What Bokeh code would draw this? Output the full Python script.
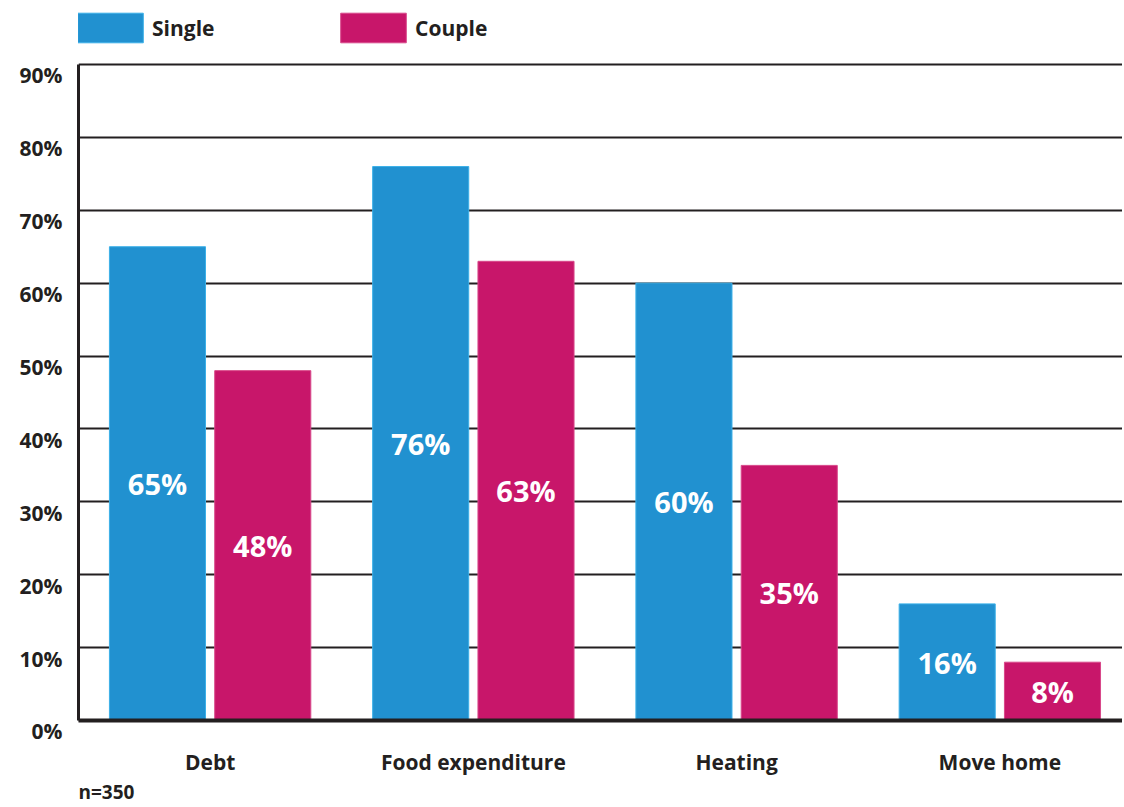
from bokeh.plotting import figure
from bokeh.models import (ColumnDataSource, Range1d, LinearAxis, FixedTicker, Grid,
                          Legend, LegendItem, LabelSet, Label)
from bokeh.embed import file_html
from bokeh.resources import INLINE
from bokeh.core.properties import value

categories = ["Debt", "Food expenditure", "Heating", "Move home"]
series = ["Single", "Couple"]
single = [65, 76, 60, 16]
couple = [48, 63, 35, 8]
y_ticks = [0, 10, 20, 30, 40, 50, 60, 70, 80, 90]
y_tick_labels = [f"{t}%" for t in y_ticks]
colors = {"Single": "#2191D0", "Couple": "#C8166A"}
note = "n=350"

FONT = "Open Sans"
DARK = "#231F20"

W, H = 1122, 805
Y_TOP = 98.78      # frame reaches above 90% to hold the legend
Y_BOT = -11.66     # ... and below 0% to hold category labels and the note
LAB_SHIFT = 1.5    # tick labels sit a little below their gridlines

p = figure(width=W, height=H, output_backend="svg", toolbar_location=None,
           x_range=Range1d(0, 3.966), y_range=Range1d(Y_BOT, Y_TOP),
           x_axis_location=None, y_axis_location=None,
           min_border_left=78, min_border_right=0, min_border_top=0,
           min_border_bottom=0)
p.outline_line_color = None
p.background_fill_color = "white"
p.border_fill_color = "white"
for g in p.grid:
    g.visible = False

p.add_layout(Grid(dimension=1, ticker=FixedTicker(ticks=y_ticks), grid_line_color=DARK,
                  grid_line_width=2))
# baseline (x axis line)
p.add_layout(Grid(dimension=1, ticker=FixedTicker(ticks=[0]), grid_line_color=DARK,
                  grid_line_width=4, level="annotation"))

idx = list(range(len(categories)))
centers = [i + 0.5 for i in idx]
src_s = ColumnDataSource(dict(x=[c - 0.2 for c in centers], top=single,
                              mid=[v / 2 for v in single],
                              lab=[f"{v}%" for v in single]))
src_c = ColumnDataSource(dict(x=[c + 0.2 for c in centers], top=couple,
                              mid=[v / 2 for v in couple],
                              lab=[f"{v}%" for v in couple]))

r_s = p.vbar(x="x", top="top", bottom=0, width=0.365, source=src_s,
             fill_color=colors["Single"], line_color="#3BB0E8", line_width=1)
r_c = p.vbar(x="x", top="top", bottom=0, width=0.365, source=src_c,
             fill_color=colors["Couple"], line_color="#D8488A", line_width=1)

for src in (src_s, src_c):
    p.add_layout(LabelSet(x="x", y="mid", text="lab", source=src,
                          text_color="white", text_font=value(FONT),
                          text_font_style="bold", text_font_size="29px",
                          text_align="center", text_baseline="middle"))

# category labels under the baseline
csrc = ColumnDataSource(dict(x=centers, y=[0] * len(centers), lab=categories))
p.add_layout(LabelSet(x="x", y="y", text="lab", source=csrc, y_offset=-41,
                      text_align="center", text_baseline="middle",
                      text_font=value(FONT), text_font_style="bold",
                      text_font_size="21px", text_color=DARK))

p.add_layout(Label(x=0, y=0, y_offset=-71, text=note,
                   text_align="left", text_baseline="middle",
                   text_font=FONT, text_font_style="bold",
                   text_font_size="19px", text_color=DARK))

# y axis line (no ticks), from 0% to 90%
yline = LinearAxis(ticker=FixedTicker(ticks=[]), bounds=(0, 90),
                   axis_line_color=DARK, axis_line_width=3,
                   major_tick_line_color=None, minor_tick_line_color=None,
                   major_label_standoff=0)
p.add_layout(yline, "left")

# y tick labels
p.extra_y_ranges = {"lab": Range1d(Y_BOT + LAB_SHIFT, Y_TOP + LAB_SHIFT)}
ylab = LinearAxis(y_range_name="lab", ticker=FixedTicker(ticks=y_ticks),
                  major_label_overrides={t: s for t, s in zip(y_ticks, y_tick_labels)},
                  axis_line_color=None, major_tick_line_color=None,
                  minor_tick_line_color=None, major_label_standoff=10,
                  major_label_text_font=FONT, major_label_text_font_style="bold",
                  major_label_text_font_size="21px", major_label_text_color=DARK)
p.add_layout(ylab, "left")

legend = Legend(items=[LegendItem(label=series[0], renderers=[r_s]),
                       LegendItem(label=series[1], renderers=[r_c])],
                orientation="horizontal", location=(-9, 759),
                glyph_width=82, glyph_height=37, label_width=180,
                label_standoff=1, spacing=0, padding=0, margin=0,
                border_line_color=None, background_fill_alpha=0,
                label_text_font=FONT, label_text_font_style="bold",
                label_text_font_size="21px", label_text_color=DARK,
                label_height=37)
p.add_layout(legend, "center")

open("out.html", "w").write(file_html(p, INLINE))
